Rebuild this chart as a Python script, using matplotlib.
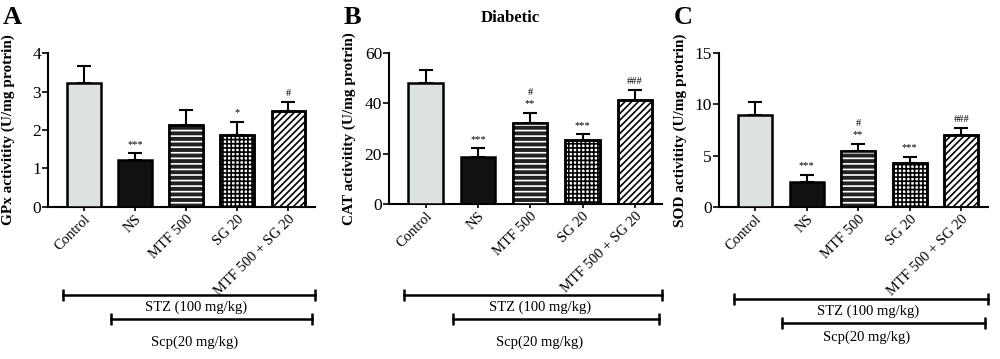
import numpy as np
import matplotlib
matplotlib.use("Agg")
from matplotlib import pyplot as plt
import matplotlib.transforms as mtransforms

plt.rcParams['font.family'] = ['Liberation Serif', 'DejaVu Serif']
plt.rcParams['hatch.linewidth'] = 1.2

groups = ["Control", "NS", "MTF 500", "SG 20", "MTF 500 + SG 20"]

gpx_mean = [3.22, 1.21, 2.14, 1.87, 2.49]
gpx_err = [0.43, 0.18, 0.37, 0.35, 0.23]
gpx_marks = ["", "***", "", "*", "#"]

cat_mean = [48.1, 18.8, 32.0, 25.6, 41.2]
cat_err = [5.3, 3.3, 4.2, 2.1, 4.0]
cat_marks = ["", "***", "#\n**", "***", "###"]

sod_mean = [8.93, 2.44, 5.42, 4.25, 6.98]
sod_err = [1.27, 0.71, 0.75, 0.62, 0.68]
sod_marks = ["", "***", "#\n**", "***", "###"]

ylabels = ["GPx activitity (U/mg protrin)",
           "CAT activitity (U/mg protrin)",
           "SOD activitity (U/mg protrin)"]
yticks = [[0, 1, 2, 3, 4], [0, 20, 40, 60], [0, 5, 10, 15]]
letters = ["A", "B", "C"]

fills = ["#dce2e2", "#111111", "#222222", "white", "white"]
hatches = [None, None, "---", "++++", "/////"]
hcolors = ["black", "black", "white", "black", "black"]

fig = plt.figure(figsize=(10, 3.59), dpi=100)

# axes boxes in pixels: left, right, bottom(y=0), top
boxes = [(48, 315, 207, 53), (389, 662, 204, 53), (719, 988, 207, 53)]
# bracket rows in pixels (y of STZ line, y of Scp line, y STZ text, y Scp text)
rows = [(295, 319, 307, 342), (295, 319, 307, 342), (299, 323, 311, 337)]
W, H = 1000.0, 359.0

data = [(gpx_mean, gpx_err, gpx_marks), (cat_mean, cat_err, cat_marks),
        (sod_mean, sod_err, sod_marks)]

x = np.arange(len(groups))
for i, (means, errs, marks) in enumerate(data):
    l, r, b, t = boxes[i]
    ax = fig.add_axes([l / W, 1 - b / H, (r - l) / W, (b - t) / H])
    for j in range(len(groups)):
        ax.bar(x[j], means[j], width=0.66, color=fills[j],
               edgecolor="black", linewidth=1.8, zorder=3)
        if hatches[j]:
            ax.bar(x[j], means[j], width=0.66, color="none",
                   edgecolor=hcolors[j], hatch=hatches[j], linewidth=0, zorder=3)
            ax.bar(x[j], means[j], width=0.66, color="none",
                   edgecolor="black", linewidth=1.8, zorder=4)
    ax.errorbar(x, means, yerr=[np.zeros(len(errs)), errs], fmt="none",
                ecolor="black", elinewidth=1.5, capsize=5, capthick=1.5, zorder=2)
    top = yticks[i][-1]
    for j, m in enumerate(marks):
        if m:
            ax.text(x[j], means[j] + errs[j] + top * 0.03, m, ha="center",
                    va="bottom", fontsize=7.5, linespacing=1.3)
    ax.set_xlim(-0.70, 4.52)
    ax.set_ylim(0, top)
    ax.set_yticks(yticks[i])
    ax.tick_params(axis="y", labelsize=12.5, length=4, width=1.2, pad=1)
    ax.tick_params(axis="x", length=3, width=1.2, pad=1)
    ax.set_xticks(x)
    ax.set_xticklabels(groups, rotation=45, ha="right", rotation_mode="anchor",
                       fontsize=10.5)
    for s in ["top", "right"]:
        ax.spines[s].set_visible(False)
    for s in ["left", "bottom"]:
        ax.spines[s].set_linewidth(1.5)
    ax.set_ylabel(ylabels[i], fontsize=11, fontweight="bold")
    ax.yaxis.set_label_coords(-0.125 if i == 0 else -0.12, 0.50)

    fig.text((l - 45) / W, 1 - 17 / H, letters[i], fontsize=19,
             fontweight="bold", va="center", ha="left")

    # treatment brackets
    trans = mtransforms.blended_transform_factory(ax.transAxes, fig.transFigure)
    ys, yp, yts, ytp = rows[i]
    ax.plot([0.055, 1.0], [1 - ys / H] * 2, color="black", lw=1.8,
            marker="|", markersize=9, mew=1.8, transform=trans, clip_on=False)
    ax.plot([0.235, 0.99], [1 - yp / H] * 2, color="black", lw=1.8,
            marker="|", markersize=9, mew=1.8, transform=trans, clip_on=False)
    ax.text(0.555, 1 - yts / H, "STZ (100 mg/kg)", ha="center", va="center",
            fontsize=10.5, transform=trans)
    ax.text(0.55, 1 - ytp / H, "Scp(20 mg/kg)", ha="center", va="center",
            fontsize=10.5, transform=trans)

fig.text(510 / W, 1 - 18 / H, "Diabetic", fontsize=12, fontweight="bold",
         ha="center", va="center")

fig.savefig("out.png", dpi=100)
